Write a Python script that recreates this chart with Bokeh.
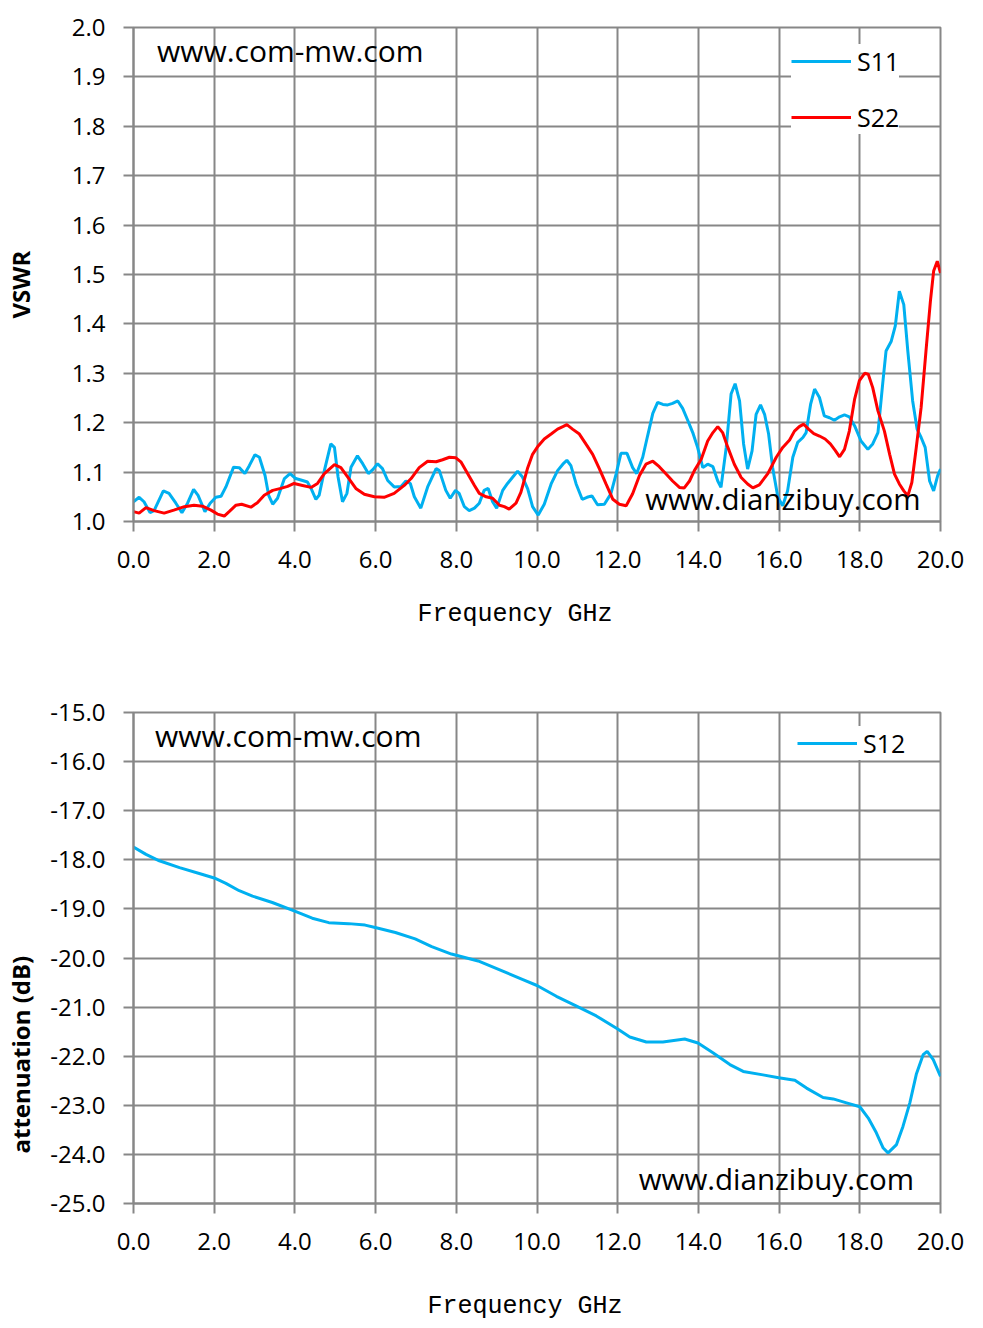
from bokeh.plotting import figure
from bokeh.models import Range1d, FixedTicker, PrintfTickFormatter, Label, Legend, LegendItem, Title
from bokeh.layouts import column
from bokeh.embed import file_html
from bokeh.resources import INLINE

# ---------------- data ----------------
x_ticks = [0, 2, 4, 6, 8, 10, 12, 14, 16, 18, 20]
vswr_ticks = [1.0, 1.1, 1.2, 1.3, 1.4, 1.5, 1.6, 1.7, 1.8, 1.9, 2.0]
att_ticks = [-25, -24, -23, -22, -21, -20, -19, -18, -17, -16, -15]

s11_f = [0.0, 0.14, 0.26, 0.41, 0.51, 0.74, 0.88, 1.05, 1.2, 1.34, 1.49, 1.6, 1.77, 1.9, 2.04, 2.17,
         2.29, 2.48, 2.62, 2.76, 2.87, 3.01, 3.12, 3.26, 3.35, 3.45, 3.57, 3.74, 3.88, 4.02, 4.19, 4.31,
         4.4, 4.52, 4.6, 4.73, 4.89, 4.98, 5.07, 5.18, 5.29, 5.39, 5.55, 5.68, 5.82, 5.93, 6.05, 6.17,
         6.3, 6.46, 6.63, 6.75, 6.86, 6.96, 7.12, 7.29, 7.5, 7.58, 7.74, 7.85, 7.98, 8.07, 8.2, 8.32,
         8.45, 8.57, 8.69, 8.79, 8.9, 9.0, 9.15, 9.27, 9.4, 9.52, 9.64, 9.77, 9.89, 10.03, 10.18, 10.35,
         10.51, 10.64, 10.74, 10.84, 10.97, 11.12, 11.24, 11.36, 11.5, 11.67, 11.83, 11.96, 12.08, 12.23,
         12.37, 12.47, 12.62, 12.74, 12.87, 12.99, 13.12, 13.24, 13.36, 13.49, 13.61, 13.74, 13.86, 13.98,
         14.11, 14.23, 14.36, 14.48, 14.56, 14.69, 14.81, 14.91, 15.02, 15.12, 15.22, 15.33, 15.43, 15.54,
         15.64, 15.74, 15.84, 15.97, 16.09, 16.21, 16.34, 16.46, 16.59, 16.67, 16.78, 16.88, 17.0, 17.12,
         17.25, 17.37, 17.5, 17.62, 17.74, 17.87, 18.03, 18.2, 18.32, 18.45, 18.57, 18.65, 18.78, 18.88,
         18.98, 19.09, 19.19, 19.31, 19.42, 19.52, 19.62, 19.73, 19.83, 19.93, 20.0]
s11_v = [1.04, 1.049, 1.04, 1.018, 1.022, 1.062, 1.057, 1.037, 1.018, 1.037, 1.065, 1.053, 1.02, 1.037,
         1.049, 1.051, 1.07, 1.11, 1.109, 1.097, 1.113, 1.135, 1.13, 1.093, 1.053, 1.035, 1.047, 1.087,
         1.097, 1.087, 1.083, 1.08, 1.067, 1.045, 1.053, 1.103, 1.157, 1.15, 1.09, 1.04, 1.057, 1.11,
         1.133, 1.117, 1.097, 1.105, 1.117, 1.107, 1.083, 1.07, 1.071, 1.082, 1.077, 1.05, 1.027, 1.07,
         1.107, 1.103, 1.063, 1.047, 1.063, 1.057, 1.03, 1.022, 1.027, 1.037, 1.063, 1.067, 1.04, 1.027,
         1.063, 1.077, 1.09, 1.102, 1.09, 1.066, 1.03, 1.013, 1.035, 1.076, 1.103, 1.116, 1.124, 1.113,
         1.076, 1.045, 1.049, 1.052, 1.034, 1.035, 1.056, 1.096, 1.138, 1.138, 1.109, 1.097, 1.13, 1.173,
         1.219, 1.241, 1.237, 1.236, 1.239, 1.244, 1.229, 1.204, 1.18, 1.15, 1.109, 1.116, 1.111, 1.082,
         1.069, 1.15, 1.258, 1.279, 1.244, 1.157, 1.106, 1.143, 1.217, 1.236, 1.217, 1.177, 1.109, 1.049,
         1.032, 1.062, 1.13, 1.16, 1.17, 1.18, 1.237, 1.268, 1.251, 1.214, 1.21, 1.205, 1.212, 1.216,
         1.212, 1.194, 1.163, 1.146, 1.157, 1.18, 1.281, 1.345, 1.365, 1.396, 1.466, 1.439, 1.345, 1.244,
         1.187, 1.17, 1.15, 1.082, 1.062, 1.093, 1.106]

s22_f = [0.0, 0.14, 0.31, 0.51, 0.76, 1.0, 1.26, 1.5, 1.71, 1.92, 2.08, 2.25, 2.37, 2.54, 2.68, 2.91,
         3.07, 3.24, 3.45, 3.65, 3.82, 3.98, 4.19, 4.4, 4.56, 4.73, 4.98, 5.14, 5.31, 5.51, 5.72, 5.97,
         6.21, 6.46, 6.71, 6.88, 7.08, 7.29, 7.5, 7.66, 7.83, 7.99, 8.12, 8.28, 8.45, 8.57, 8.74, 8.9,
         9.07, 9.19, 9.31, 9.48, 9.6, 9.77, 9.89, 10.03, 10.18, 10.35, 10.51, 10.64, 10.74, 10.88, 11.05,
         11.21, 11.38, 11.55, 11.71, 11.88, 12.04, 12.21, 12.37, 12.54, 12.7, 12.87, 13.03, 13.2, 13.36,
         13.53, 13.65, 13.78, 13.9, 14.07, 14.23, 14.36, 14.48, 14.6, 14.73, 14.89, 15.06, 15.22, 15.35,
         15.51, 15.72, 15.93, 16.09, 16.26, 16.38, 16.5, 16.61, 16.73, 16.86, 17.0, 17.14, 17.27, 17.39,
         17.5, 17.62, 17.74, 17.87, 17.99, 18.12, 18.21, 18.32, 18.45, 18.61, 18.74, 18.86, 18.98, 19.09,
         19.19, 19.29, 19.4, 19.52, 19.64, 19.75, 19.83, 19.92, 20.0]
s22_v = [1.02, 1.017, 1.028, 1.022, 1.017, 1.023, 1.03, 1.033, 1.031, 1.023, 1.015, 1.011, 1.02, 1.033,
         1.035, 1.029, 1.038, 1.053, 1.063, 1.067, 1.071, 1.077, 1.073, 1.069, 1.077, 1.097, 1.115, 1.109,
         1.09, 1.067, 1.055, 1.05, 1.049, 1.057, 1.073, 1.087, 1.109, 1.122, 1.121, 1.125, 1.13, 1.129,
         1.12, 1.097, 1.073, 1.057, 1.05, 1.047, 1.033, 1.03, 1.025, 1.037, 1.059, 1.109, 1.136, 1.153,
         1.167, 1.177, 1.187, 1.192, 1.196, 1.187, 1.177, 1.157, 1.136, 1.106, 1.076, 1.045, 1.035, 1.032,
         1.056, 1.093, 1.116, 1.122, 1.111, 1.096, 1.082, 1.069, 1.068, 1.082, 1.103, 1.126, 1.163, 1.18,
         1.192, 1.18, 1.15, 1.116, 1.089, 1.076, 1.068, 1.074, 1.097, 1.13, 1.15, 1.165, 1.183, 1.192,
         1.197, 1.187, 1.178, 1.173, 1.167, 1.157, 1.144, 1.131, 1.146, 1.183, 1.247, 1.285, 1.3, 1.298,
         1.271, 1.224, 1.183, 1.136, 1.096, 1.076, 1.062, 1.052, 1.079, 1.15, 1.231, 1.345, 1.446, 1.507,
         1.527, 1.503]

s12_f = [0.0, 0.31, 0.64, 1.14, 1.63, 2.0, 2.29, 2.62, 2.95, 3.44, 3.98, 4.43, 4.84, 5.33, 5.74, 5.99,
         6.49, 6.98, 7.39, 7.88, 8.54, 9.65, 10.0, 10.48, 10.98, 11.47, 11.99, 12.3, 12.71, 13.12, 13.66,
         13.99, 14.36, 14.78, 15.11, 15.6, 15.99, 16.39, 16.68, 17.09, 17.34, 17.67, 18.0, 18.21, 18.41,
         18.58, 18.7, 18.91, 19.07, 19.24, 19.4, 19.57, 19.67, 19.82, 20.0]
s12_v = [-17.74, -17.89, -18.02, -18.16, -18.28, -18.37, -18.48, -18.63, -18.74, -18.87, -19.04, -19.19,
         -19.28, -19.3, -19.33, -19.38, -19.48, -19.61, -19.77, -19.92, -20.06, -20.44, -20.56, -20.78,
         -20.98, -21.18, -21.44, -21.61, -21.71, -21.71, -21.65, -21.73, -21.93, -22.17, -22.31, -22.38,
         -22.44, -22.49, -22.65, -22.84, -22.87, -22.95, -23.03, -23.26, -23.56, -23.87, -23.97, -23.8,
         -23.43, -22.95, -22.37, -21.97, -21.9, -22.07, -22.41]

BLUE = "#00B0F0"
RED = "#FF0000"
GRID = "#878787"
FONT = "Open Sans"
NBSP = "\u00a0"


def make_fig(y0, y1, yticks, frame_h, border_top, border_bottom, ypad, xpad):
    p = figure(frame_width=807, frame_height=frame_h, min_border_left=133, min_border_right=35,
               min_border_top=border_top, min_border_bottom=border_bottom,
               x_range=Range1d(0, 20), y_range=Range1d(y0, y1),
               output_backend="svg", toolbar_location=None, background_fill_color="white",
               border_fill_color="white")
    p.outline_line_color = GRID
    p.outline_line_width = 2
    for ax in (p.xaxis[0], p.yaxis[0]):
        ax.axis_line_color = GRID
        ax.axis_line_width = 2
        ax.major_tick_line_color = GRID
        ax.major_tick_line_width = 2
        ax.major_tick_out = 10
        ax.major_tick_in = 0
        ax.minor_tick_line_color = None
        ax.major_label_text_font = FONT
        ax.major_label_text_font_size = "24px"
        ax.major_label_text_color = "black"
        ax.formatter = PrintfTickFormatter(format="%.1f")
        # invisible spacer label: pushes the outer title away from the axis
        ax.axis_label = NBSP
        ax.axis_label_text_font_size = "1px"
    p.yaxis.axis_label_standoff = ypad
    p.xaxis.axis_label_standoff = xpad
    p.xaxis.ticker = FixedTicker(ticks=x_ticks)
    p.yaxis.ticker = FixedTicker(ticks=yticks)
    p.xaxis.major_label_standoff = 19
    p.yaxis.major_label_standoff = 18
    p.xgrid.ticker = FixedTicker(ticks=x_ticks)
    p.ygrid.ticker = FixedTicker(ticks=yticks)
    for g in (p.xgrid[0], p.ygrid[0]):
        g.grid_line_color = GRID
        g.grid_line_width = 2
    return p


def wm(p, text, x, y, size):
    p.add_layout(Label(x=x, y=y, text=text, text_font=FONT, text_font_size=size,
                       text_align="left", text_baseline="middle", text_color="black"))


def ylab(p, text, offset):
    p.add_layout(Title(text=text, align="left", text_font=FONT, text_font_size="24px",
                       text_font_style="bold", text_color="black", standoff=2,
                       offset=offset), "left")


def xlab(p, text, offset):
    p.add_layout(Title(text=text, align="left", text_font="Liberation Mono",
                       text_font_size="25px", text_font_style="normal", text_color="black",
                       standoff=4, offset=offset), "below")


# ---------------- top chart ----------------
p1 = make_fig(1.0, 2.0, vswr_ticks, 494, 27, 20, 27, 21)
r11 = p1.line(s11_f, s11_v, line_color=BLUE, line_width=3)
r22 = p1.line(s22_f, s22_v, line_color=RED, line_width=3)
wm(p1, "www.com-mw.com", 0.58, 1.953, "30px")
wm(p1, "www.dianzibuy.com", 12.68, 1.046, "29.5px")
leg1 = Legend(items=[LegendItem(label="S11", renderers=[r11]), LegendItem(label="S22", renderers=[r22])],
              location=(658, 387), orientation="vertical")
ylab(p1, "VSWR", 203)
xlab(p1, "Frequency GHz", 284)

# ---------------- bottom chart ----------------
p2 = make_fig(-25.0, -15.0, att_ticks, 491, 82, 20, 6, 31)
r12 = p2.line(s12_f, s12_v, line_color=BLUE, line_width=3)
wm(p2, "www.com-mw.com", 0.53, -15.46, "30px")
wm(p2, "www.dianzibuy.com", 12.52, -24.49, "29.5px")
leg2 = Legend(items=[LegendItem(label="S12", renderers=[r12])], location=(664, 443),
              orientation="vertical")
ylab(p2, "attenuation (dB)", 50)
xlab(p2, "Frequency GHz", 294)

for leg, pad in ((leg1, 12), (leg2, 15)):
    leg.background_fill_color = "white"
    leg.background_fill_alpha = 1.0
    leg.border_line_color = None
    leg.label_text_font = FONT
    leg.label_text_font_size = "25px"
    leg.label_text_color = "black"
    leg.glyph_width = 60
    leg.glyph_height = 30
    leg.label_height = 30
    leg.label_standoff = 6
    leg.spacing = 22
    leg.padding = pad
    leg.margin = 0

p1.add_layout(leg1)
p2.add_layout(leg2)

layout = column(p1, p2, spacing=0)
open("out.html", "w").write(file_html(layout, INLINE))
